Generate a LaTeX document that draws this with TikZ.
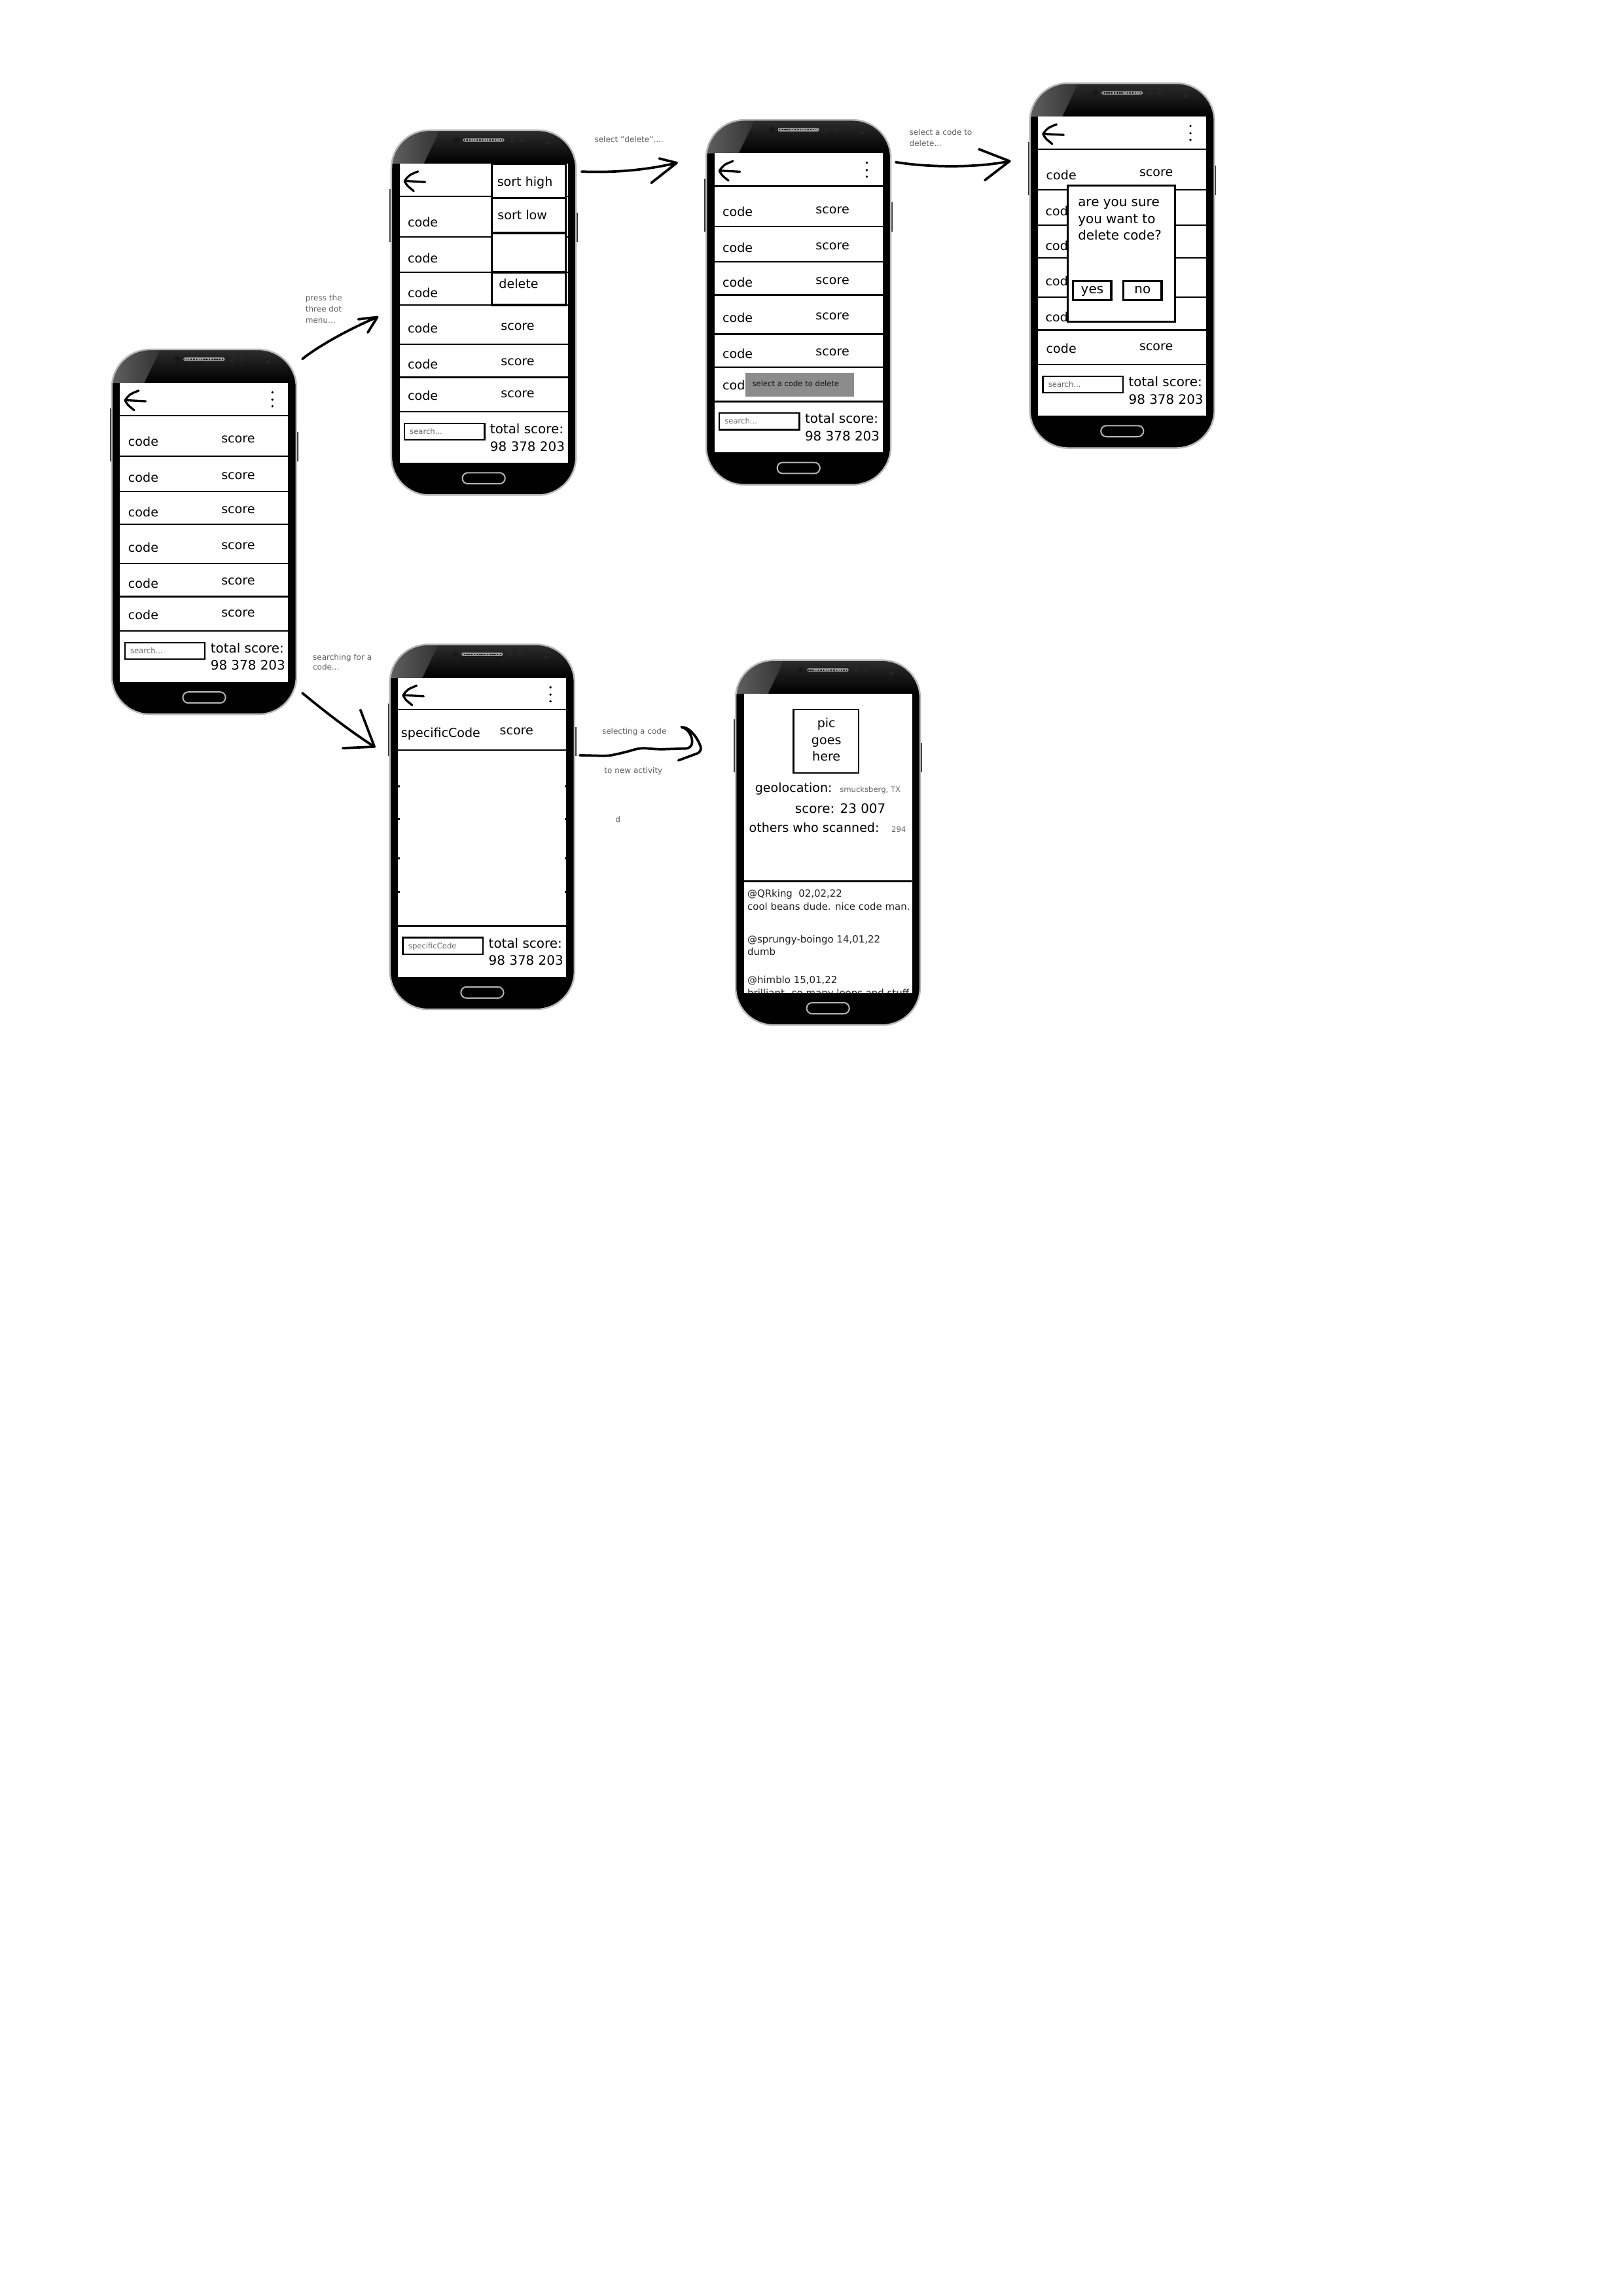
\documentclass[tikz,border=0pt]{standalone}
\usepackage{fontspec}
\setmainfont{DejaVu Sans}

\tikzset{
  rowline/.style={line width=0.6pt},
  boxline/.style={line width=0.8pt},
  txt/.style={anchor=base west, inner sep=0pt, font=\fontsize{4.6}{5.5}\selectfont},
  bigtxt/.style={txt, font=\fontsize{4.8}{5.8}\selectfont},
  smalltxt/.style={txt, font=\fontsize{2.8}{3.4}\selectfont, text=gray!80!black},
  posttxt/.style={txt, font=\fontsize{3.6}{4.3}\selectfont, text=gray!25!black},
  annot/.style={txt, font=\fontsize{2.9}{3.5}\selectfont, text=gray!75!black},
  scrawl/.style={line width=0.9pt, line cap=round, line join=round},
}

% one handset, drawn from its top left corner
\newcommand{\handset}{%
  \fill[gray!40!black] (-1.2,40) rectangle (0.5,76);
  \fill[gray!40!black] (125,56) rectangle (126.7,76);
  \fill[black, rounded corners=14pt] (0,0) rectangle (125.5,248);
  \begin{scope}
    \clip[rounded corners=14pt] (0,0) rectangle (125.5,248);
    \shade[top color=gray!35!black, bottom color=black] (0,0) rectangle (125.5,22.8);
    \shade[left color=gray!75!black, right color=gray!40!black]
      (0,0) -- (33,0) -- (22,22.8) -- (0,22.8) -- cycle;
  \end{scope}
  \draw[gray!55, line width=0.6pt, rounded corners=14pt] (0,0) rectangle (125.5,248);
  \filldraw[fill=gray!75, draw=gray!20!black, line width=0.2pt, rounded corners=0.6pt]
    (48.5,5.3) rectangle (77,8);
  \draw[black, line width=0.5pt, dash pattern=on 0.3pt off 0.3pt] (49.5,6.65) -- (76,6.65);
  \fill[gray!18!black] (44.5,6.6) circle (1.9);
  \fill[gray!28!black] (82,6.6) circle (1.8);
  \fill[gray!28!black] (88.3,6.6) circle (1.8);
  \fill[gray!30!black] (106,8.8) circle (1.2);
  \fill[white] (5.6,22.8) rectangle (119.9,226);
  \filldraw[fill=black, draw=gray!60, line width=0.5pt, rounded corners=2pt]
    (48.3,232.8) rectangle (77.3,240.3);
}
\newcommand{\backarrow}{%
  \draw[scrawl, line width=0.8pt] (18.2,28) .. controls (12,30.5) .. (9,34.5)
    .. controls (10.5,37.5) .. (15.2,41.3);
  \draw[scrawl, line width=0.8pt] (9.5,34.5) -- (23,35.2);
}
\newcommand{\dotmenu}{\foreach \y in {29.1,34.1,38.6} \fill (109.2,\y) circle (0.85);}
\newcommand{\rowlines}[1]{\foreach \y in {#1} \draw[rowline] (5.6,\y) -- (119.9,\y);}
\newcommand{\entries}[1]{\foreach \b in {#1} {
  \node[txt] at (10.8,\b) {code};
  \node[txt] at (74.1,{\b-1.9}) {score};}}
\newcommand{\footer}[1]{%
  \draw[rowline] (8.9,199.3) rectangle (63.3,210.5);
  \node[smalltxt] at (12.2,206.6) {#1};
  \node[bigtxt] at (66.8,206.3) {total score:};
  \node[bigtxt] at (66.8,218) {98 378 203};
}

\begin{document}
\begin{tikzpicture}[x=0.019036cm, y=-0.019036cm]
\fill[white] (0,0) rectangle (1103.2,1560.5);
\useasboundingbox (0,0) rectangle (1103.2,1560.5);

% code list
\begin{scope}[shift={(76,237.5)}]
  \handset \backarrow \dotmenu
  \rowlines{45,72.5,96.5,118.8,145.5,168,191.3}
  \entries{65.5,90.2,113.5,137.7,162,183.5}
  \footer{search...}
\end{scope}

% three dot menu open
\begin{scope}[shift={(266,88.5)}]
  \handset \backarrow
  \rowlines{45,72.5,96.5,118.8,145.5,168,191.3}
  \foreach \b in {65.5,90.2,113.5} \node[txt] at (10.8,\b) {code};
  \entries{137.7,162,183.5}
  \filldraw[boxline, fill=white] (68.3,22.8) rectangle (118.5,118.8);
  \draw[boxline] (68.3,46.2) -- (118.5,46.2) (68.3,69.9) -- (118.5,69.9)
    (68.3,96.5) -- (118.5,96.5);
  \node[txt] at (71.6,38.1) {sort high};
  \node[txt] at (71.9,60.6) {sort low};
  \node[txt] at (72.8,107.5) {delete};
  \footer{search...}
\end{scope}

% pick a code
\begin{scope}[shift={(480,81.5)}]
  \handset \backarrow \dotmenu
  \rowlines{45,72.5,96.5,118.8,145.5,168,191.3}
  \entries{65.5,90.2,113.5,137.7,162}
  \begin{scope}
    \clip (5.6,168) rectangle (26.6,191.3);
    \node[txt] at (10.8,183.5) {code};
  \end{scope}
  \fill[black!45] (26.6,172) rectangle (100.5,188.1);
  \node[smalltxt, text=gray!15!black] at (31,181) {select a code to delete};
  \footer{search...}
\end{scope}

% confirm dialog
\begin{scope}[shift={(700,56.5)}]
  \handset \backarrow \dotmenu
  \rowlines{45,72.5,96.5,118.8,145.5,168,191.3}
  \foreach \b in {90.2,113.5,137.7,162} \node[txt] at (10.3,\b) {code};
  \entries{65.5,183.5}
  \filldraw[boxline, fill=white] (25.9,69.7) rectangle (98.8,162.2);
  \node[bigtxt] at (32.4,83.8) {are you sure};
  \node[bigtxt] at (32.4,95.2) {you want to};
  \node[bigtxt] at (32.4,106.7) {delete code?};
  \draw[boxline] (29.4,134.6) rectangle (55.4,147.6);
  \draw[boxline] (63.7,134.6) rectangle (89.6,147.6);
  \node[bigtxt, anchor=base] at (42.4,143) {yes};
  \node[bigtxt, anchor=base] at (76.6,143) {no};
  \footer{search...}
\end{scope}

% search result
\begin{scope}[shift={(265,438)}]
  \handset \backarrow \dotmenu
  \rowlines{44.3,71.7,191.2}
  \foreach \y in {96.5,118.8,145.5,168}
    \draw[rowline] (5.6,\y) -- (6.6,\y) (118.9,\y) -- (119.9,\y);
  \node[txt] at (7.3,63.2) {specificCode};
  \node[txt] at (74.3,61.5) {score};
  \footer{specificCode}
\end{scope}

% code page
\begin{scope}[shift={(500,448.7)}]
  \handset
  \begin{scope}
    \clip (5.6,22.8) rectangle (119.9,226);
    \draw[line width=0.6pt] (39.3,33.4) rectangle (83.6,76.7);
    \node[txt, anchor=base] at (61.7,45.7) {pic};
    \node[txt, anchor=base] at (61.7,57.1) {goes};
    \node[txt, anchor=base] at (61.7,68.6) {here};
    \node[txt] at (12.9,89.7) {geolocation:};
    \node[smalltxt] at (70.5,89.7) {smucksberg, TX};
    \node[bigtxt] at (40.1,104.1) {score: 23 007};
    \node[txt] at (8.8,116.8) {others who scanned:};
    \node[smalltxt] at (105.6,116.8) {294};
    \draw[rowline] (5.6,150.3) -- (119.9,150.3);
    \node[posttxt] at (7.7,160.8) {@QRking\ \ 02,02,22};
    \node[posttxt] at (7.7,169.8) {cool beans dude. nice code man.};
    \node[posttxt] at (7.7,192.2) {@sprungy-boingo 14,01,22};
    \node[posttxt] at (7.7,200.6) {dumb};
    \node[posttxt] at (7.7,219.6) {@himblo 15,01,22};
    \node[posttxt] at (7.7,228.6) {brilliant. so many loops and stuff};
  \end{scope}
\end{scope}

% notes
\node[annot] at (207.3,204.5) {press the};
\node[annot] at (207.3,212) {three dot};
\node[annot] at (207.3,219.5) {menu...};
\node[annot] at (403.8,96.7) {select "delete"....};
\node[annot] at (617.8,91.8) {select a code to};
\node[annot] at (617.8,99.2) {delete...};
\node[annot] at (212.3,448.5) {searching for a};
\node[annot] at (212.3,455.5) {code...};
\node[annot] at (408.9,499) {selecting a code};
\node[annot] at (410.4,525.7) {to new activity};
\node[annot] at (417.9,559) {d};

% scribbled arrows
\coordinate (menuTail) at (205.5,244);
\coordinate (menuTip) at (256.5,215.5);
\draw[scrawl] (menuTail) .. controls (214,237) and (234,225) .. (menuTip)
  -- ++(-13,1.5) (menuTip) -- ++(-6.5,10.5);

\coordinate (deleteTail) at (395.4,116.6);
\coordinate (deleteTip) at (460,110.7);
\draw[scrawl] (deleteTail) .. controls (418,117.5) and (440,115.5) .. (deleteTip)
  -- ++(-11.9,-3) (deleteTip) -- ++(-17.3,13.6);

\coordinate (pickTail) at (608.9,110.2);
\coordinate (pickTip) at (686.3,109.5);
\draw[scrawl] (pickTail) .. controls (632,114) and (665,114) .. (pickTip)
  -- ++(-20.9,-8.1) (pickTip) -- ++(-16.9,13);

\coordinate (searchTail) at (205.5,471);
\coordinate (searchTip) at (254.5,507.5);
\draw[scrawl] (searchTail) .. controls (220,483) and (238,497) .. (searchTip)
  -- ++(-9.5,-25) (searchTip) -- ++(-21.5,1);

\coordinate (openTail) at (394.1,513.3);
\coordinate (openTip) at (477.4,510.8);
\draw[scrawl, rounded corners=2pt] (openTail) -- ++(19.6,0.5) -- ++(11.8,-2.7)
  -- ++(9.7,-2.8) -- ++(12.6,1) -- ++(22.3,-0.7)
  .. controls (471,499) and (466,495) .. (461.1,493.8)
  .. controls (469,495) and (474,501) .. (openTip) -- ++(-16.3,6);
\end{tikzpicture}
\end{document}
